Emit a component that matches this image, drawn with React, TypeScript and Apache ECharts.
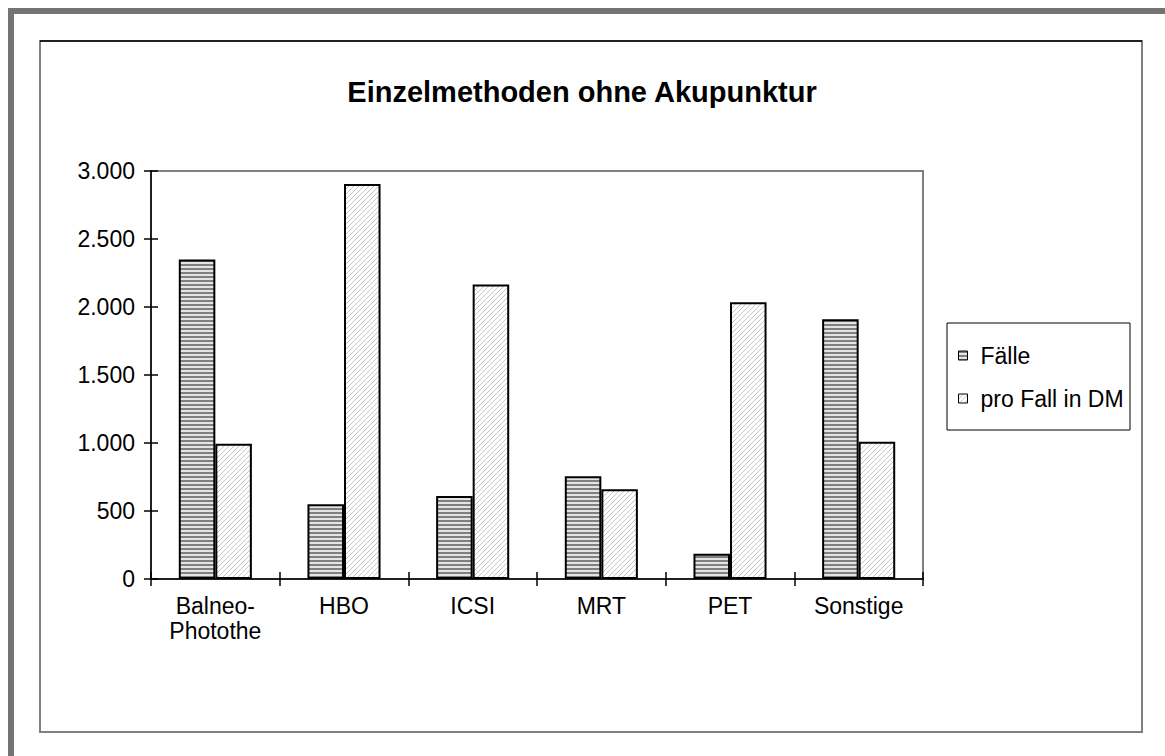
import React, { useEffect, useRef } from "react";
import * as echarts from "echarts";

const categories = ["Balneo-\nPhotothe", "HBO", "ICSI", "MRT", "PET", "Sonstige"];
const faelle = [2350, 550, 610, 755, 185, 1910];
const proFall = [995, 2905, 2165, 660, 2035, 1010];
const seriesNames = ["Fälle", "pro Fall in DM"];
const titleText = "Einzelmethoden ohne Akupunktur";

const FONT = "'Liberation Sans', Arial, sans-serif";

function stripePattern(): HTMLCanvasElement {
  const c = document.createElement("canvas");
  c.width = 4;
  c.height = 4;
  const ctx = c.getContext("2d")!;
  ctx.fillStyle = "#e4e4e4";
  ctx.fillRect(0, 0, 4, 4);
  ctx.fillStyle = "#808080";
  ctx.fillRect(0, 0, 4, 2);
  return c;
}

function diagPattern(): HTMLCanvasElement {
  const c = document.createElement("canvas");
  c.width = 5;
  c.height = 5;
  const ctx = c.getContext("2d")!;
  ctx.fillStyle = "#ffffff";
  ctx.fillRect(0, 0, 5, 5);
  ctx.strokeStyle = "#c4c4c4";
  ctx.lineWidth = 1;
  ctx.beginPath();
  ctx.moveTo(-1, 6);
  ctx.lineTo(6, -1);
  ctx.stroke();
  return c;
}

export default function App() {
  const ref = useRef<HTMLDivElement>(null);
  useEffect(() => {
    if (!ref.current) return;
    const chart = echarts.init(ref.current, undefined, { renderer: "svg" });
    const p1 = { image: stripePattern(), repeat: "repeat" };
    const p2 = { image: diagPattern(), repeat: "repeat" };
    const fmt = (v: number) => (v >= 1000 ? Math.floor(v / 1000) + "." + String(v % 1000).padStart(3, "0") : String(v));
    const grid = { left: 151, top: 171, right: 242, bottom: 177, show: true, borderColor: "#808080", borderWidth: 2, backgroundColor: "transparent" };
    chart.setOption({
      animation: false,
      backgroundColor: "#ffffff",
      textStyle: { fontFamily: FONT },
      graphic: [
        { type: "rect", shape: { x: 8, y: 8, width: 6, height: 760 }, style: { fill: "#747474" }, silent: true },
        { type: "rect", shape: { x: 8, y: 8, width: 1170, height: 6 }, style: { fill: "#747474" }, silent: true },
        { type: "rect", shape: { x: 40, y: 41, width: 1102, height: 691 }, style: { fill: "none", stroke: "#808080", lineWidth: 2 }, silent: true },
        { type: "line", shape: { x1: 40, y1: 41, x2: 1142, y2: 41 }, style: { stroke: "#000", lineWidth: 1.5 }, silent: true },
        { type: "rect", shape: { x: 947, y: 323, width: 183, height: 107 }, style: { fill: "none", stroke: "#000", lineWidth: 1 }, silent: true },
        {
          type: "text",
          x: 582,
          y: 92,
          style: { text: titleText, font: `bold 29px ${FONT}`, fill: "#000", textAlign: "center", textVerticalAlign: "middle" },
          silent: true,
        },
      ],
      legend: {
        data: seriesNames,
        orient: "vertical",
        left: 953,
        top: 339,
        itemWidth: 9,
        itemHeight: 9,
        itemGap: 20,
        icon: "rect",
        itemStyle: { borderColor: "#000", borderWidth: 1 },
        textStyle: { fontSize: 23, color: "#000", fontFamily: FONT, lineHeight: 23, padding: [0, 0, 0, 8] },
      },
      grid,
      xAxis: [
        {
          type: "category",
          data: categories,
          boundaryGap: true,
          axisLine: { lineStyle: { color: "#000", width: 1.5 } },
          axisTick: { show: true, length: 7, lineStyle: { color: "#000", width: 1.5 } },
          axisLabel: { fontSize: 23, color: "#000", margin: 14, lineHeight: 25, fontFamily: FONT, interval: 0 },
          splitLine: { show: false },
        },
        {
          type: "category",
          data: categories,
          position: "bottom",
          boundaryGap: true,
          axisLine: { show: false },
          axisTick: { show: true, inside: true, length: 7, lineStyle: { color: "#000", width: 1.5 } },
          axisLabel: { show: false },
          splitLine: { show: false },
        },
      ],
      yAxis: [
        {
          type: "value",
          min: 0,
          max: 3000,
          interval: 500,
          axisLine: { show: true, lineStyle: { color: "#000", width: 1.5 } },
          axisTick: { show: true, length: 7, lineStyle: { color: "#000", width: 1.5 } },
          axisLabel: { fontSize: 23, color: "#000", margin: 16, formatter: fmt, fontFamily: FONT },
          splitLine: { show: false },
        },
        {
          type: "value",
          min: 0,
          max: 3000,
          interval: 500,
          position: "left",
          axisLine: { show: false },
          axisTick: { show: true, inside: true, length: 7, lineStyle: { color: "#000", width: 1.5 } },
          axisLabel: { show: false },
          splitLine: { show: false },
        },
      ],
      series: [
        {
          name: seriesNames[0],
          type: "bar",
          data: faelle,
          barWidth: "28.4%",
          barGap: "0%",
          itemStyle: { color: p1, borderColor: "#000", borderWidth: 2 },
        },
        {
          name: seriesNames[1],
          type: "bar",
          data: proFall,
          barWidth: "28.4%",
          barGap: "0%",
          itemStyle: { color: p2, borderColor: "#000", borderWidth: 2 },
        },
      ],
    });
    return () => chart.dispose();
  }, []);
  return <div ref={ref} style={{ position: "fixed", left: 0, top: 0, width: 1165, height: 756 }} />;
}
